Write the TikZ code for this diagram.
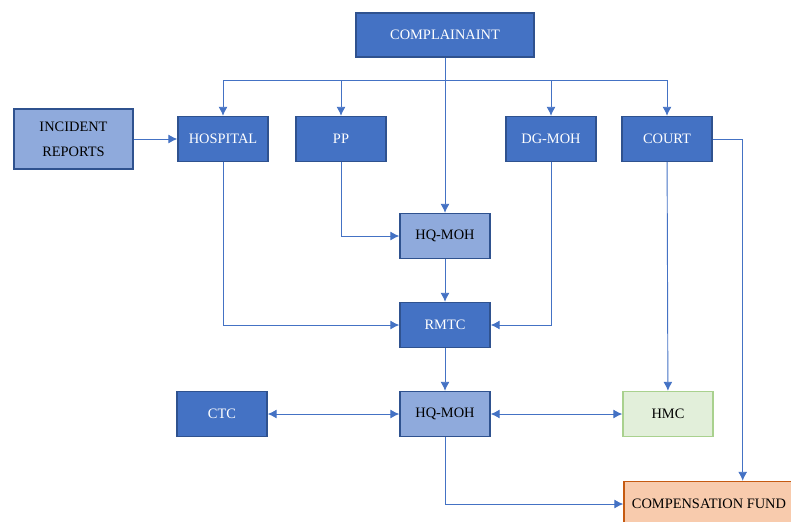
\documentclass[tikz,border=0pt]{standalone}
\usepackage{fontspec}
\setmainfont{Liberation Serif}
\usetikzlibrary{arrows.meta,positioning}

\definecolor{dkblue}{HTML}{4472C4}
\definecolor{edgeblue}{HTML}{2F528F}
\definecolor{ltblue}{HTML}{8FAADC}
\definecolor{ltgreen}{HTML}{E2EFDA}
\definecolor{edgegreen}{HTML}{A9D18E}
\definecolor{ltorange}{HTML}{F8CBAD}
\definecolor{edgeorange}{HTML}{C55A11}

\begin{document}
\begin{tikzpicture}[
    x=0.03cm, y=-0.03cm,
    box/.style={draw=edgeblue, line width=1.2pt, fill=dkblue, text=white, align=center, minimum width=2.7cm, minimum height=1.35cm, font=\fontsize{12.3}{15}\selectfont},
    lbox/.style={box, fill=ltblue, text=black},
    arr/.style={-{Latex[length=2.7mm,width=2.7mm]}, draw=dkblue, line width=0.8pt},
    dbl/.style={{Latex[length=2.7mm,width=2.7mm]}-{Latex[length=2.7mm,width=2.7mm]}, draw=dkblue, line width=0.8pt},
    ln/.style={draw=dkblue, line width=0.8pt}
]
\clip (0,0) rectangle (791,521);
\node[box, minimum width=5.34cm, minimum height=1.32cm] (comp) at (445,35) {COMPLAINAINT};
\node[lbox, minimum width=3.57cm, minimum height=1.8cm] (inc) at (73.5,139) {INCIDENT\\[6pt]REPORTS};
\node[box] (hosp) at (223,139) {HOSPITAL};
\node[box] (pp) at (341,139) {PP};
\node[box] (dg) at (551,139) {DG-MOH};
\node[box] (court) at (667,139) {COURT};
\node[lbox] (hqa) at (445,236) {HQ-MOH};
\node[box] (rmtc) at (445,325) {RMTC};
\node[box] (ctc) at (222,414) {CTC};
\node[lbox] (hqb) at (445,414) {HQ-MOH};
\node[box, fill=ltgreen, draw=edgegreen, text=black] (hmc) at (668,414) {HMC};
\node[box, fill=ltorange, draw=edgeorange, text=black, minimum width=5.1cm] (fund) at (709,504) {COMPENSATION FUND};
\coordinate (bus) at (445,80);
\draw[ln] (hosp.north |- bus) -- (court.north |- bus);
\draw[arr] (hosp.north |- bus) -- (hosp.north);
\draw[arr] (pp.north |- bus) -- (pp.north);
\draw[arr] (dg.north |- bus) -- (dg.north);
\draw[arr] (court.north |- bus) -- (court.north);
\draw[arr] (comp) -- (hqa);
\draw[arr] (inc) -- (hosp);
\draw[arr] (pp.south) |- (hqa.west);
\draw[arr] (hosp.south) |- (rmtc.west);
\draw[arr] (dg.south) |- (rmtc.east);
\draw[arr] (hqa) -- (rmtc);
\draw[arr] (rmtc) -- (hqb);
\draw[dbl] (ctc) -- (hqb);
\draw[dbl] (hqb) -- (hmc);
\draw[arr] (court) -- (hmc);
\draw[arr] (court.east) -| ([xshift=0.9cm]court.east |- fund.north);
\draw[arr] (hqb.south) |- (fund.west);
\end{tikzpicture}
\end{document}
